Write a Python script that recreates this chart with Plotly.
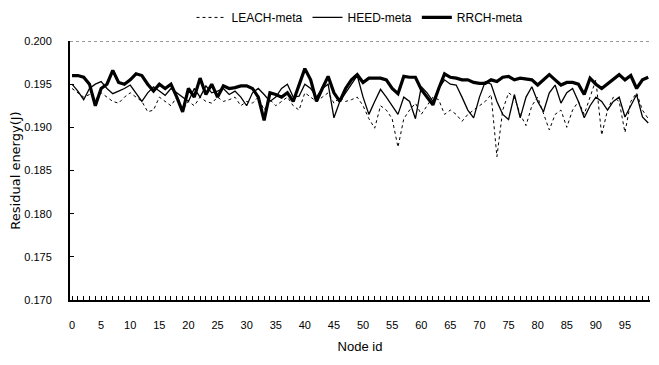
import plotly.graph_objects as go

node_id = list(range(100))

leach_meta = [
    .1945, .1940, .1935, .1938, .1932, .1940, .1935, .1930, .1928, .1935,
    .1940, .1935, .1930, .1918, .1920, .1935, .1930, .1925, .1935, .1920,
    .1930, .1925, .1935, .1930, .1928, .1935, .1930, .1932, .1935, .1925,
    .1930, .1928, .1935, .1920, .1932, .1925, .1930, .1935, .1925, .1920,
    .1940, .1935, .1930, .1935, .1940, .1928, .1935, .1930, .1932, .1935,
    .1925, .1910, .1899, .1925, .1920, .1910, .1877, .1910, .1920, .1928,
    .1915, .1925, .1935, .1932, .1915, .1920, .1915, .1907, .1915, .1920,
    .1925, .1930, .1938, .1866, .1920, .1940, .1935, .1915, .1902, .1925,
    .1935, .1915, .1897, .1915, .1920, .1900, .1920, .1930, .1915, .1935,
    .1955, .1891, .1920, .1935, .1930, .1894, .1930, .1940, .1920, .1910,
]

heed_meta = [
    .1950, .1942, .1932, .1945, .1950, .1953, .1945, .1939, .1942, .1945,
    .1949, .1940, .1930, .1940, .1947, .1942, .1937, .1945, .1940, .1935,
    .1930, .1945, .1935, .1948, .1940, .1942, .1945, .1938, .1942, .1935,
    .1925, .1940, .1945, .1938, .1930, .1935, .1945, .1950, .1935, .1936,
    .1950, .1945, .1935, .1945, .1950, .1911, .1930, .1940, .1950, .1960,
    .1935, .1915, .1930, .1944, .1935, .1925, .1915, .1935, .1930, .1910,
    .1947, .1940, .1930, .1945, .1955, .1950, .1949, .1935, .1920, .1911,
    .1935, .1953, .1950, .1930, .1915, .1909, .1938, .1911, .1935, .1947,
    .1930, .1918, .1940, .1949, .1928, .1940, .1945, .1930, .1911, .1925,
    .1935, .1930, .1920, .1930, .1935, .1912, .1925, .1938, .1912, .1905,
]

rrch_meta = [
    .1960, .1960, .1958, .1950, .1925, .1945, .1950, .1966, .1952, .1950,
    .1955, .1962, .1960, .1950, .1942, .1950, .1945, .1950, .1935, .1918,
    .1945, .1935, .1957, .1938, .1950, .1935, .1948, .1945, .1946, .1948,
    .1948, .1945, .1935, .1908, .1940, .1938, .1935, .1940, .1930, .1949,
    .1968, .1955, .1930, .1945, .1959, .1940, .1930, .1945, .1955, .1961,
    .1952, .1957, .1957, .1957, .1955, .1945, .1939, .1959, .1958, .1958,
    .1944, .1935, .1926, .1945, .1962, .1958, .1957, .1955, .1955, .1952,
    .1951, .1951, .1955, .1953, .1958, .1959, .1955, .1957, .1956, .1955,
    .1949, .1955, .1961, .1955, .1949, .1952, .1952, .1950, .1938, .1957,
    .1950, .1945, .1950, .1955, .1961, .1955, .1960, .1945, .1955, .1958,
]

x_tick_vals = list(range(0, 100, 5))
y_tick_vals = [0.170, 0.175, 0.180, 0.185, 0.190, 0.195, 0.200]
y_tick_text = ["0.170", "0.175", "0.180", "0.185", "0.190", "0.195", "0.200"]

font_main = "Liberation Sans, Arial, sans-serif"

fig = go.Figure()
fig.add_trace(go.Scatter(x=node_id, y=leach_meta, mode="lines", name="LEACH-meta",
                         line=dict(color="black", width=1, dash="dot")))
fig.add_trace(go.Scatter(x=node_id, y=heed_meta, mode="lines", name="HEED-meta",
                         line=dict(color="black", width=1.3)))
fig.add_trace(go.Scatter(x=node_id, y=rrch_meta, mode="lines", name="RRCH-meta",
                         line=dict(color="black", width=3.2)))

fig.add_shape(type="line", xref="paper", yref="y", x0=0, x1=1, y0=0.200, y1=0.200,
              line=dict(color="#777777", width=1.5, dash="dot"))

# The page body has an 8px default margin, so the figure is sized to fit 659x365.
fig.update_layout(
    width=651, height=357,
    margin=dict(l=62, r=9, t=33, b=65, autoexpand=False),
    paper_bgcolor="white", plot_bgcolor="white",
    font=dict(family=font_main, size=12, color="black"),
    showlegend=True,
    legend=dict(orientation="h", x=0.5, xanchor="center", y=1.035, yanchor="bottom",
                font=dict(family=font_main, size=12, color="black"),
                itemwidth=30, tracegroupgap=0, bgcolor="rgba(0,0,0,0)"),
    xaxis=dict(
        range=[-0.35, 99.3], tickmode="array", tickvals=x_tick_vals,
        ticks="inside", ticklen=4, tickwidth=1, tickcolor="black",
        minor=dict(dtick=1, ticks="inside", ticklen=4, tickwidth=1, tickcolor="black"),
        showline=True, linecolor="black", linewidth=2, showgrid=False, zeroline=False,
        automargin=False, ticklabelstandoff=14,
        tickfont=dict(family=font_main, size=11, color="black"),
        title=dict(text="Node id", font=dict(family=font_main, size=13, color="black"), standoff=12),
    ),
    yaxis=dict(
        range=[0.170, 0.200], tickmode="array", tickvals=y_tick_vals, ticktext=y_tick_text,
        ticks="inside", ticklen=4, tickwidth=1, tickcolor="black",
        showline=True, linecolor="black", linewidth=2, showgrid=False, zeroline=False,
        automargin=False, ticklabelstandoff=14,
        tickfont=dict(family=font_main, size=11, color="black"),
        title=dict(text="Residual energy(J)", font=dict(family="DejaVu Sans, sans-serif", size=13, color="black"), standoff=14),
    ),
)

fig.write_html("out.html")
